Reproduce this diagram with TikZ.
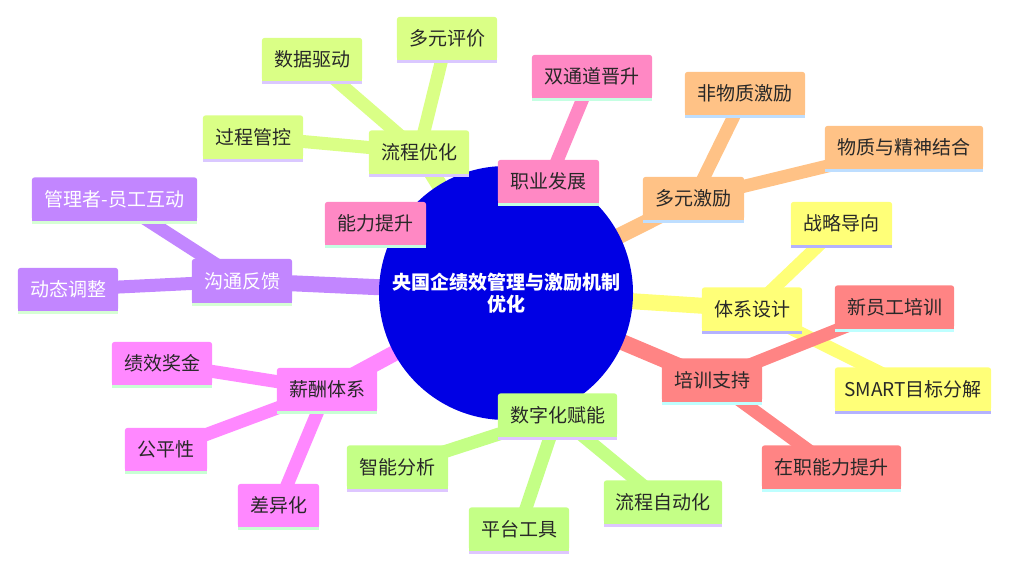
\documentclass[tikz,border=0pt]{standalone}
\usepackage{fontspec}
\newfontfamily\cjk{Noto Sans CJK SC}
\pgfdeclarelayer{edges}
\pgfdeclarelayer{circ}
\pgfdeclarelayer{boxes}
\pgfsetlayers{edges,circ,boxes,main}
\definecolor{rootc}{RGB}{0,0,228}
\definecolor{txt}{RGB}{40,40,40}
\definecolor{cA}{RGB}{218,255,134}\definecolor{sA}{RGB}{218,200,255}
\definecolor{cB}{RGB}{255,136,196}\definecolor{sB}{RGB}{196,255,226}
\definecolor{cC}{RGB}{255,194,134}\definecolor{sC}{RGB}{190,222,255}
\definecolor{cD}{RGB}{255,255,120}\definecolor{sD}{RGB}{180,178,255}
\definecolor{cE}{RGB}{255,132,132}\definecolor{sE}{RGB}{190,255,255}
\definecolor{cF}{RGB}{196,255,134}\definecolor{sF}{RGB}{222,198,255}
\definecolor{cG}{RGB}{255,136,255}\definecolor{sG}{RGB}{200,255,212}
\definecolor{cH}{RGB}{194,134,255}\definecolor{sH}{RGB}{214,255,212}
\newcommand\mmfill[3]{%
  \begin{pgfonlayer}{boxes}
    \fill[#2,rounded corners=3pt] (#1.south west) rectangle (#1.north east);
    \fill[#2] (#1.south west) rectangle (#1.east);
    \fill[#3] (#1.south west) rectangle ([yshift=-3pt]#1.south east);
  \end{pgfonlayer}}
\tikzset{
  box/.style={minimum height=43pt, inner sep=0pt, text=txt,
    font=\cjk\fontsize{19}{23}\selectfont},
  wbox/.style={box, text=white},
  mainedge/.style={line width=16pt},
  childedge/.style={line width=13pt},
}
\begin{document}
\begin{tikzpicture}[x=1pt,y=-1pt]
\useasboundingbox (0,0) rectangle (1017,565);
% root
\node[text=white, align=center, inner sep=0pt,
  font=\cjk\bfseries\fontsize{19}{22}\selectfont] (root) at (506,293)
  {央国企绩效管理与激励机制\\优化};
\begin{pgfonlayer}{circ}
  \fill[rootc] (root.center) circle (127pt);
\end{pgfonlayer}
% branch A
\node[box, minimum width=100pt] (lcyh) at (419,152) {流程优化};
\node[box, minimum width=100pt] (gcgk) at (253,137) {过程管控};
\node[box, minimum width=100pt] (sjqd) at (312,59.5) {数据驱动};
\node[box, minimum width=100pt] (dypj) at (447,38.5) {多元评价};
% branch B
\node[box, minimum width=101pt] (zyfz) at (548.5,181.5) {职业发展};
\node[box, minimum width=120pt] (stdjs) at (592,76.5) {双通道晋升};
\node[box, minimum width=101pt] (nlts) at (375.5,223.5) {能力提升};
% branch C
\node[box, minimum width=101pt] (dyjl) at (693.5,198.5) {多元激励};
\node[box, minimum width=120pt] (fwzjl) at (745,93.5) {非物质激励};
\node[box, minimum width=158pt] (wzyjs) at (904,147.5) {物质与精神结合};
% branch D
\node[box, minimum width=100pt] (txsj) at (752,309) {体系设计};
\node[box, minimum width=101pt] (zldx) at (841.5,223.5) {战略导向};
\node[box, minimum width=156pt] (smart) at (913,389) {SMART目标分解};
% branch E
\node[box, minimum width=100pt] (pxzc) at (712,380) {培训支持};
\node[box, minimum width=119pt] (xygpx) at (894.5,307) {新员工培训};
\node[box, minimum width=139pt] (zznl) at (831.5,467) {在职能力提升};
% branch F
\node[box, minimum width=119pt] (szh) at (557.5,415) {数字化赋能};
\node[box, minimum width=101pt] (znfx) at (397.5,467) {智能分析};
\node[box, minimum width=100pt] (ptgj) at (519,529) {平台工具};
\node[box, minimum width=118pt] (lczdh) at (663,502) {流程自动化};
% branch G
\node[box, minimum width=100pt] (xctx) at (327,389.5) {薪酬体系};
\node[box, minimum width=100pt] (jxjj) at (162,363.5) {绩效奖金};
\node[box, minimum width=82pt] (gpx) at (166,449.5) {公平性};
\node[box, minimum width=81pt] (cyh) at (278.5,505.5) {差异化};
% branch H
\node[wbox, minimum width=100pt, minimum height=44pt] (gtfk) at (242,281) {沟通反馈};
\node[wbox, minimum width=165pt] (glz) at (114.5,199) {管理者-员工互动};
\node[wbox, minimum width=100pt] (dttz) at (68,289.5) {动态调整};
% fills
\mmfill{lcyh}{cA}{sA}\mmfill{gcgk}{cA}{sA}\mmfill{sjqd}{cA}{sA}\mmfill{dypj}{cA}{sA}
\mmfill{zyfz}{cB}{sB}\mmfill{stdjs}{cB}{sB}\mmfill{nlts}{cB}{sB}
\mmfill{dyjl}{cC}{sC}\mmfill{fwzjl}{cC}{sC}\mmfill{wzyjs}{cC}{sC}
\mmfill{txsj}{cD}{sD}\mmfill{zldx}{cD}{sD}\mmfill{smart}{cD}{sD}
\mmfill{pxzc}{cE}{sE}\mmfill{xygpx}{cE}{sE}\mmfill{zznl}{cE}{sE}
\mmfill{szh}{cF}{sF}\mmfill{znfx}{cF}{sF}\mmfill{ptgj}{cF}{sF}\mmfill{lczdh}{cF}{sF}
\mmfill{xctx}{cG}{sG}\mmfill{jxjj}{cG}{sG}\mmfill{gpx}{cG}{sG}\mmfill{cyh}{cG}{sG}
\mmfill{gtfk}{cH}{sH}\mmfill{glz}{cH}{sH}\mmfill{dttz}{cH}{sH}
% edges
\begin{pgfonlayer}{edges}
  \draw[mainedge, cA] (root.center) -- (lcyh.center);
  \draw[childedge, cA] (lcyh.center) -- (gcgk.center);
  \draw[childedge, cA] (lcyh.center) -- (sjqd.center);
  \draw[childedge, cA] (lcyh.center) -- (dypj.center);
  \draw[mainedge, cB] (root.center) -- (zyfz.center);
  \draw[childedge, cB] (zyfz.center) -- (stdjs.center);
  \draw[childedge, cB] (zyfz.center) -- (nlts.center);
  \draw[mainedge, cC] (root.center) -- (dyjl.center);
  \draw[childedge, cC] (dyjl.center) -- (fwzjl.center);
  \draw[childedge, cC] (dyjl.center) -- (wzyjs.center);
  \draw[mainedge, cD] (root.center) -- (txsj.center);
  \draw[childedge, cD] (txsj.center) -- (zldx.center);
  \draw[childedge, cD] (txsj.center) -- (smart.center);
  \draw[mainedge, cE] (root.center) -- (pxzc.center);
  \draw[childedge, cE] (pxzc.center) -- (xygpx.center);
  \draw[childedge, cE] (pxzc.center) -- (zznl.center);
  \draw[mainedge, cF] (root.center) -- (szh.center);
  \draw[childedge, cF] (szh.center) -- (znfx.center);
  \draw[childedge, cF] (szh.center) -- (ptgj.center);
  \draw[childedge, cF] (szh.center) -- (lczdh.center);
  \draw[mainedge, cG] (root.center) -- (xctx.center);
  \draw[childedge, cG] (xctx.center) -- (jxjj.center);
  \draw[childedge, cG] (xctx.center) -- (gpx.center);
  \draw[childedge, cG] (xctx.center) -- (cyh.center);
  \draw[mainedge, cH] (root.center) -- (gtfk.center);
  \draw[childedge, cH] (gtfk.center) -- (glz.center);
  \draw[childedge, cH] (gtfk.center) -- (dttz.center);
\end{pgfonlayer}
\end{tikzpicture}
\end{document}
